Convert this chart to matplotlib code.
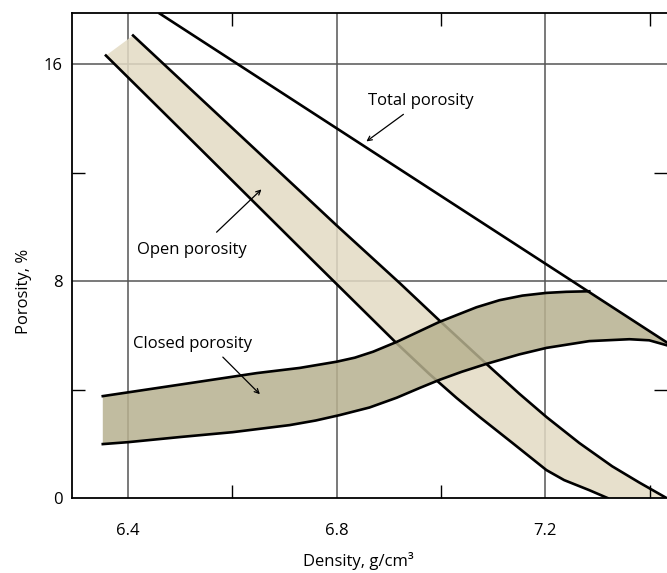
import matplotlib.pyplot as plt

plt.rcParams['font.family'] = ['Open Sans', 'DejaVu Sans']

# open porosity band edges (density g/cm3, porosity %)
open_up_x = [6.410, 6.538, 6.729, 6.800, 6.921, 6.997, 7.087, 7.150, 7.202, 7.265, 7.328, 7.380, 7.432]
open_up_y = [17.07, 14.77, 11.34, 10.06, 7.93, 6.55, 4.95, 3.85, 2.99, 2.03, 1.17, 0.57, 0.0]
open_lo_x = [6.358, 6.538, 6.754, 6.915, 6.978, 7.030, 7.074, 7.137, 7.202, 7.236, 7.284, 7.319]
open_lo_y = [16.33, 12.90, 8.77, 5.71, 4.57, 3.69, 2.99, 2.03, 1.03, 0.66, 0.29, 0.0]

# closed porosity band edges
closed_lo_x = [6.352, 6.400, 6.500, 6.601, 6.710, 6.760, 6.806, 6.863, 6.915, 6.959, 6.997,
               7.040, 7.087, 7.150, 7.202, 7.284, 7.361, 7.399, 7.432]
closed_lo_y = [1.99, 2.06, 2.25, 2.43, 2.69, 2.86, 3.06, 3.34, 3.70, 4.06, 4.36,
               4.66, 4.95, 5.30, 5.54, 5.79, 5.86, 5.82, 5.64]
closed_up_x = [6.352, 6.519, 6.647, 6.729, 6.800, 6.835, 6.870, 6.915, 6.997, 7.068, 7.112,
               7.156, 7.202, 7.240, 7.284]
closed_up_y = [3.76, 4.24, 4.61, 4.80, 5.03, 5.18, 5.40, 5.76, 6.50, 7.04, 7.30,
               7.47, 7.57, 7.61, 7.63]

# total porosity line
total_x = [6.461, 7.432]
total_y = [17.88, 5.75]

x_major = [6.4, 6.8, 7.2]
x_minor = [6.6, 7.0, 7.4]
y_major = [0, 8, 16]
y_minor = [4, 12]

fs = 12

fig = plt.figure(figsize=(6.67, 5.73), dpi=100)
ax = fig.add_axes([72 / 667, 75 / 573, 595 / 667, 485 / 573])

# grid first so the bands sit on top
for xv in x_major:
    ax.axvline(xv, color='#555555', lw=1.1, zorder=0)
for yv in y_major[1:]:
    ax.axhline(yv, color='#555555', lw=1.1, zorder=0)

# open porosity band
ax.fill(open_lo_x + open_up_x[::-1], open_lo_y + open_up_y[::-1],
        color='#e3dbc4', alpha=0.85, lw=0, zorder=1)
ax.plot(open_up_x, open_up_y, color='black', lw=1.9, zorder=2)
ax.plot(open_lo_x, open_lo_y, color='black', lw=1.9, zorder=2)

# closed porosity band, upper right edge follows the total line
ax.fill(closed_lo_x + [total_x[-1]] + closed_up_x[::-1],
        closed_lo_y + [total_y[-1]] + closed_up_y[::-1],
        color='#b7b18f', alpha=0.85, lw=0, zorder=3)
ax.plot(closed_up_x, closed_up_y, color='black', lw=1.9, zorder=4)
ax.plot(closed_lo_x, closed_lo_y, color='black', lw=1.9, zorder=4)

ax.plot(total_x, total_y, color='black', lw=1.9, zorder=5)

# labels with arrows
arrow = dict(arrowstyle='->', color='black', lw=0.9, shrinkA=0, shrinkB=0,
             mutation_scale=8)
ax.annotate('', xy=(6.857, 13.16), xytext=(6.928, 14.16), arrowprops=arrow, zorder=6)
ax.text(6.961, 14.67, 'Total porosity', ha='center', va='center', fontsize=fs)
ax.annotate('', xy=(6.656, 11.39), xytext=(6.570, 9.81), arrowprops=arrow, zorder=6)
ax.text(6.5225, 9.14, 'Open porosity', ha='center', va='center', fontsize=fs)
ax.annotate('', xy=(6.653, 3.83), xytext=(6.582, 5.20), arrowprops=arrow, zorder=6)
ax.text(6.524, 5.68, 'Closed porosity', ha='center', va='center', fontsize=fs)

ax.set_xlim(6.293, 7.433)
ax.set_ylim(0, 17.9)

ax.set_xticks(x_major)
ax.set_xticklabels(['6.4', '6.8', '7.2'])
ax.set_yticks(y_major)
ax.set_yticklabels(['0', '8', '16'])
ax.set_xticks(x_minor, minor=True)
ax.set_yticks(y_minor, minor=True)
ax.tick_params(axis='x', which='major', length=0, pad=18, labelsize=fs)
ax.tick_params(axis='y', which='major', length=0, pad=7, labelsize=fs)
ax.tick_params(which='minor', direction='in', length=9.5, width=1.0,
               top=True, right=True, color='black')

for side in ['left', 'bottom', 'top']:
    ax.spines[side].set_linewidth(1.3)
ax.spines['right'].set_visible(False)

ax.set_xlabel('Density, g/cm³', fontsize=fs)
ax.set_ylabel('Porosity, %', fontsize=fs)
ax.xaxis.set_label_coords(0.482, -0.112)
ax.yaxis.set_label_coords(-0.068, 0.427)

fig.savefig('out.png', dpi=100)
